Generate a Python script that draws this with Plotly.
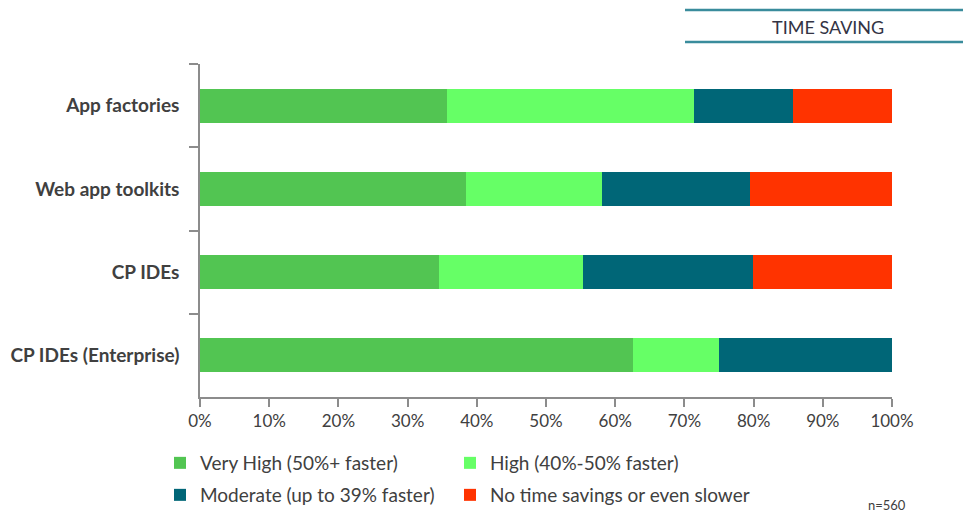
import plotly.graph_objects as go

# Survey responses: perceived time saving by tool category
categories = ["App factories", "Web app toolkits", "CP IDEs", "CP IDEs (Enterprise)"]
very_high = [35.7, 38.5, 34.5, 62.5]
high = [35.7, 19.6, 20.9, 12.5]
moderate = [14.3, 21.4, 24.5, 25.0]
no_saving = [14.3, 20.5, 20.1, 0.0]

series_names = [
    "Very High (50%+ faster)",
    "High (40%-50% faster)",
    "Moderate (up to 39% faster)",
    "No time savings or even slower",
]
series_values = [very_high, high, moderate, no_saving]
series_colors = ["#52C552", "#66FF66", "#006677", "#FF3300"]

x_ticks = list(range(0, 101, 10))
x_tick_labels = [f"{t}%" for t in x_ticks]

W, H = 963, 512
L, R, T, B = 200, 71, 64, 115
PW, PH = W - L - R, H - T - B


def px_x(p):
    return (p - L) / PW


def px_y(p):
    return (H - B - p) / PH


def cx(p):
    return p / W


def cy(p):
    return 1 - p / H


FONT = "Lato, Calibri, sans-serif"
TEXT = "#404040"

# Each legend entry gets its own legend box so the 2x2 grid is exact
legend_ids = ["legend", "legend2", "legend3", "legend4"]
legend_pos = [(200, 463), (490, 463), (200, 495), (490, 495)]

fig = go.Figure()
for name, vals, color, lg in zip(series_names, series_values, series_colors, legend_ids):
    fig.add_trace(go.Bar(
        name=name,
        y=categories,
        x=vals,
        orientation="h",
        marker=dict(color=color, line=dict(width=0)),
        legend=lg,
    ))

legend_layout = {}
for lg, (tx, ty) in zip(legend_ids, legend_pos):
    legend_layout[lg] = dict(
        orientation="v",
        xref="container",
        yref="container",
        xanchor="left",
        yanchor="middle",
        x=cx(tx - 40),
        y=cy(ty),
        font=dict(family=FONT, size=19, color=TEXT),
        bgcolor="rgba(0,0,0,0)",
        borderwidth=0,
        itemclick=False,
    )

fig.update_layout(
    width=W,
    height=H,
    margin=dict(l=L, r=R, t=T, b=B, autoexpand=False),
    barmode="stack",
    bargap=0.59,
    plot_bgcolor="white",
    paper_bgcolor="white",
    font=dict(family=FONT, color=TEXT),
    showlegend=True,
    xaxis=dict(
        range=[0, 100],
        tickvals=x_ticks,
        ticktext=x_tick_labels,
        showgrid=False,
        zeroline=False,
        showline=True,
        linecolor="#8C8C8C",
        linewidth=1.5,
        ticks="outside",
        ticklen=8,
        tickcolor="#8C8C8C",
        tickwidth=1.5,
        tickfont=dict(family=FONT, size=17, color=TEXT),
        fixedrange=True,
    ),
    yaxis=dict(
        categoryorder="array",
        categoryarray=categories,
        autorange="reversed",
        showgrid=False,
        showline=True,
        linecolor="#8C8C8C",
        linewidth=1.5,
        ticks="outside",
        tickson="boundaries",
        ticklen=9,
        tickcolor="#8C8C8C",
        tickwidth=1.5,
        ticklabelstandoff=15,
        tickfont=dict(family=FONT, size=19, color=TEXT, weight="bold"),
        fixedrange=True,
    ),
    **legend_layout,
)

# Header block at the top right
header_color = "#3A8C9C"
for yy in (10, 42):
    fig.add_shape(
        type="line", xref="paper", yref="paper",
        x0=px_x(685), x1=px_x(963), y0=px_y(yy), y1=px_y(yy),
        line=dict(color=header_color, width=2.5),
    )
fig.add_annotation(
    text="TIME SAVING", xref="paper", yref="paper",
    x=px_x(828), y=px_y(27), xanchor="center", yanchor="middle",
    showarrow=False,
    font=dict(family=FONT, size=18, color="#333344"),
)
fig.add_annotation(
    text="n=560", xref="paper", yref="paper",
    x=px_x(887), y=px_y(505), xanchor="center", yanchor="middle",
    showarrow=False,
    font=dict(family=FONT, size=13, color=TEXT),
)

fig.write_html("out.html")
